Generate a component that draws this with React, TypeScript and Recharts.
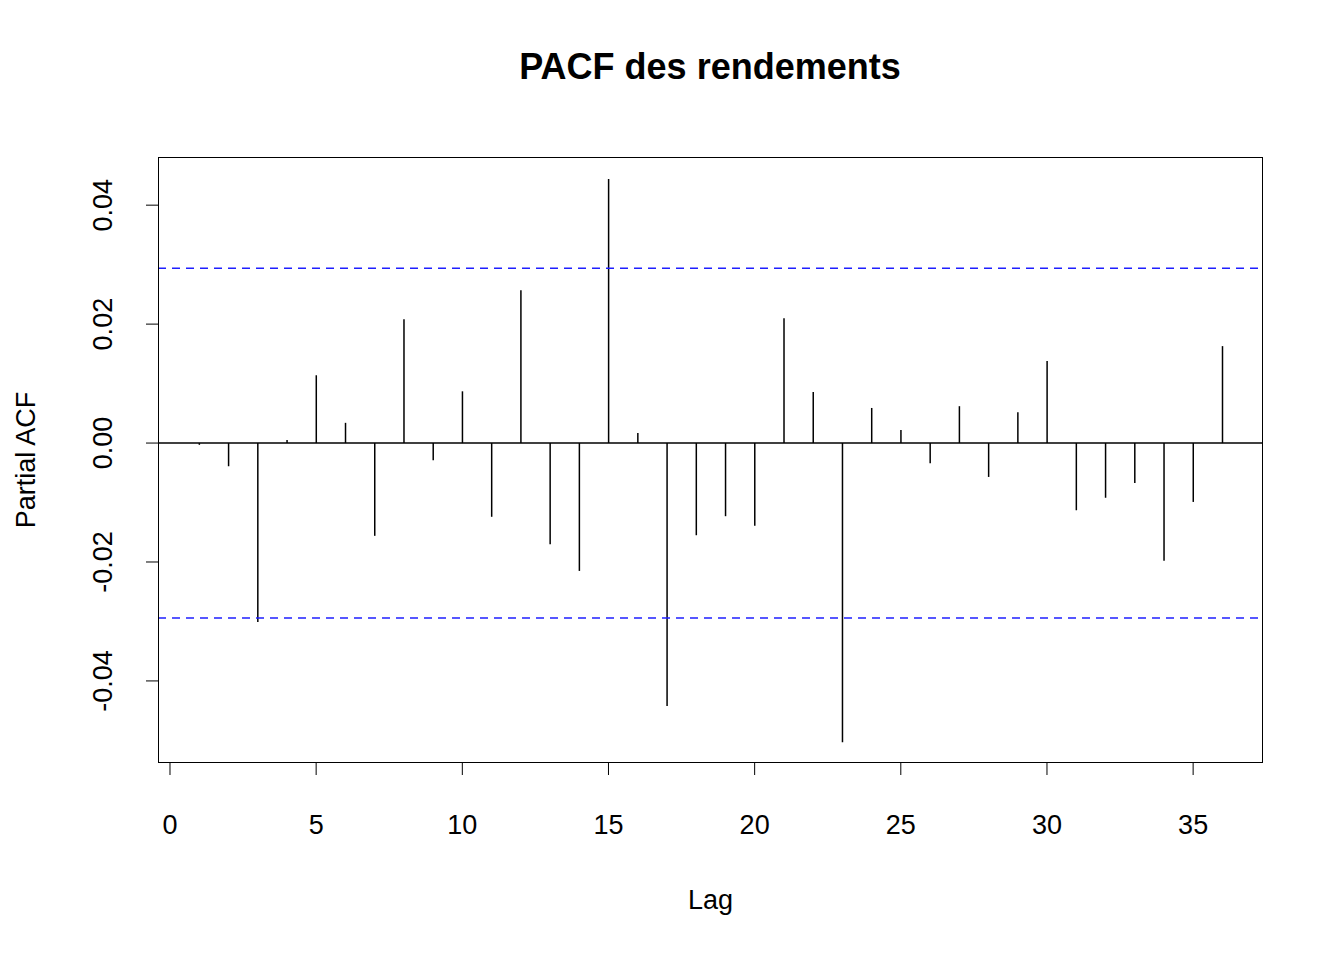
import { ComposedChart, Bar, XAxis, YAxis, ReferenceLine } from 'recharts';

const LAGS = Array.from({ length: 36 }, (_, i) => i + 1);
const PACF = [
  -0.0003, -0.0039, -0.0301, 0.0005, 0.0114, 0.0034, -0.0156, 0.0208, -0.0029, 0.0087,
  -0.0124, 0.0257, -0.017, -0.0215, 0.0444, 0.0017, -0.0442, -0.0155, -0.0123, -0.0139,
  0.021, 0.0086, -0.0503, 0.0059, 0.0022, -0.0034, 0.0062, -0.0057, 0.0052, 0.0138,
  -0.0113, -0.0092, -0.0067, -0.0198, -0.0099, 0.0163,
];
const CI = 0.0294;
const X_TICKS = [0, 5, 10, 15, 20, 25, 30, 35];
const Y_TICKS = [-0.04, -0.02, 0, 0.02, 0.04];

const data = LAGS.map((lag, i) => ({ lag, pacf: PACF[i] }));
const FONT = '"Liberation Sans", Arial, sans-serif';

const YTick = (props: any) => {
  const { y, payload } = props;
  return (
    <text x={112} y={y} transform={`rotate(-90, 112, ${y})`} textAnchor="middle" fontSize={27} fill="#000" fontFamily={FONT}>
      {payload.value.toFixed(2)}
    </text>
  );
};

export default function App() {
  return (
    <div style={{ position: 'absolute', left: 0, top: 0, width: 1344, height: 960, background: '#fff', fontFamily: FONT }}>
      <div style={{ position: 'absolute', top: 46, width: 1420, textAlign: 'center', fontSize: 36, fontWeight: 'bold' }}>
        PACF des rendements
      </div>
      <ComposedChart width={1344} height={960} data={data} margin={{ top: 157, right: 81, left: 0, bottom: 0 }}>
        <XAxis
          dataKey="lag" type="number" domain={[-0.41, 37.39]} ticks={X_TICKS} allowDataOverflow
          height={197} axisLine={false} tickLine={{ stroke: '#000' }} tickSize={12} tickMargin={40}
          tick={{ fill: '#000', fontSize: 27, fontFamily: FONT }}
          label={{ value: 'Lag', position: 'insideTop', offset: 127, fill: '#000', fontSize: 27, fontFamily: FONT }}
        />
        <YAxis
          type="number" domain={[-0.0538, 0.0481]} ticks={Y_TICKS} allowDataOverflow width={158}
          axisLine={false} tickLine={{ stroke: '#000' }} tickSize={12} tick={<YTick />}
        />
        <ReferenceLine y={0} stroke="#000" strokeWidth={1.5} />
        <ReferenceLine y={CI} stroke="#1f1fff" strokeWidth={1.5} strokeDasharray="8 6" />
        <ReferenceLine y={-CI} stroke="#1f1fff" strokeWidth={1.5} strokeDasharray="8 6" />
        <Bar dataKey="pacf" fill="#000" barSize={1.5} isAnimationActive={false} />
      </ComposedChart>
      <div style={{ position: 'absolute', left: 158, top: 157, width: 1105, height: 606, border: '1.5px solid #000', boxSizing: 'border-box', pointerEvents: 'none' }} />
      <div style={{ position: 'absolute', left: 26, top: 460, transform: 'translate(-50%, -50%) rotate(-90deg)', fontSize: 27, whiteSpace: 'nowrap' }}>
        Partial ACF
      </div>
    </div>
  );
}
